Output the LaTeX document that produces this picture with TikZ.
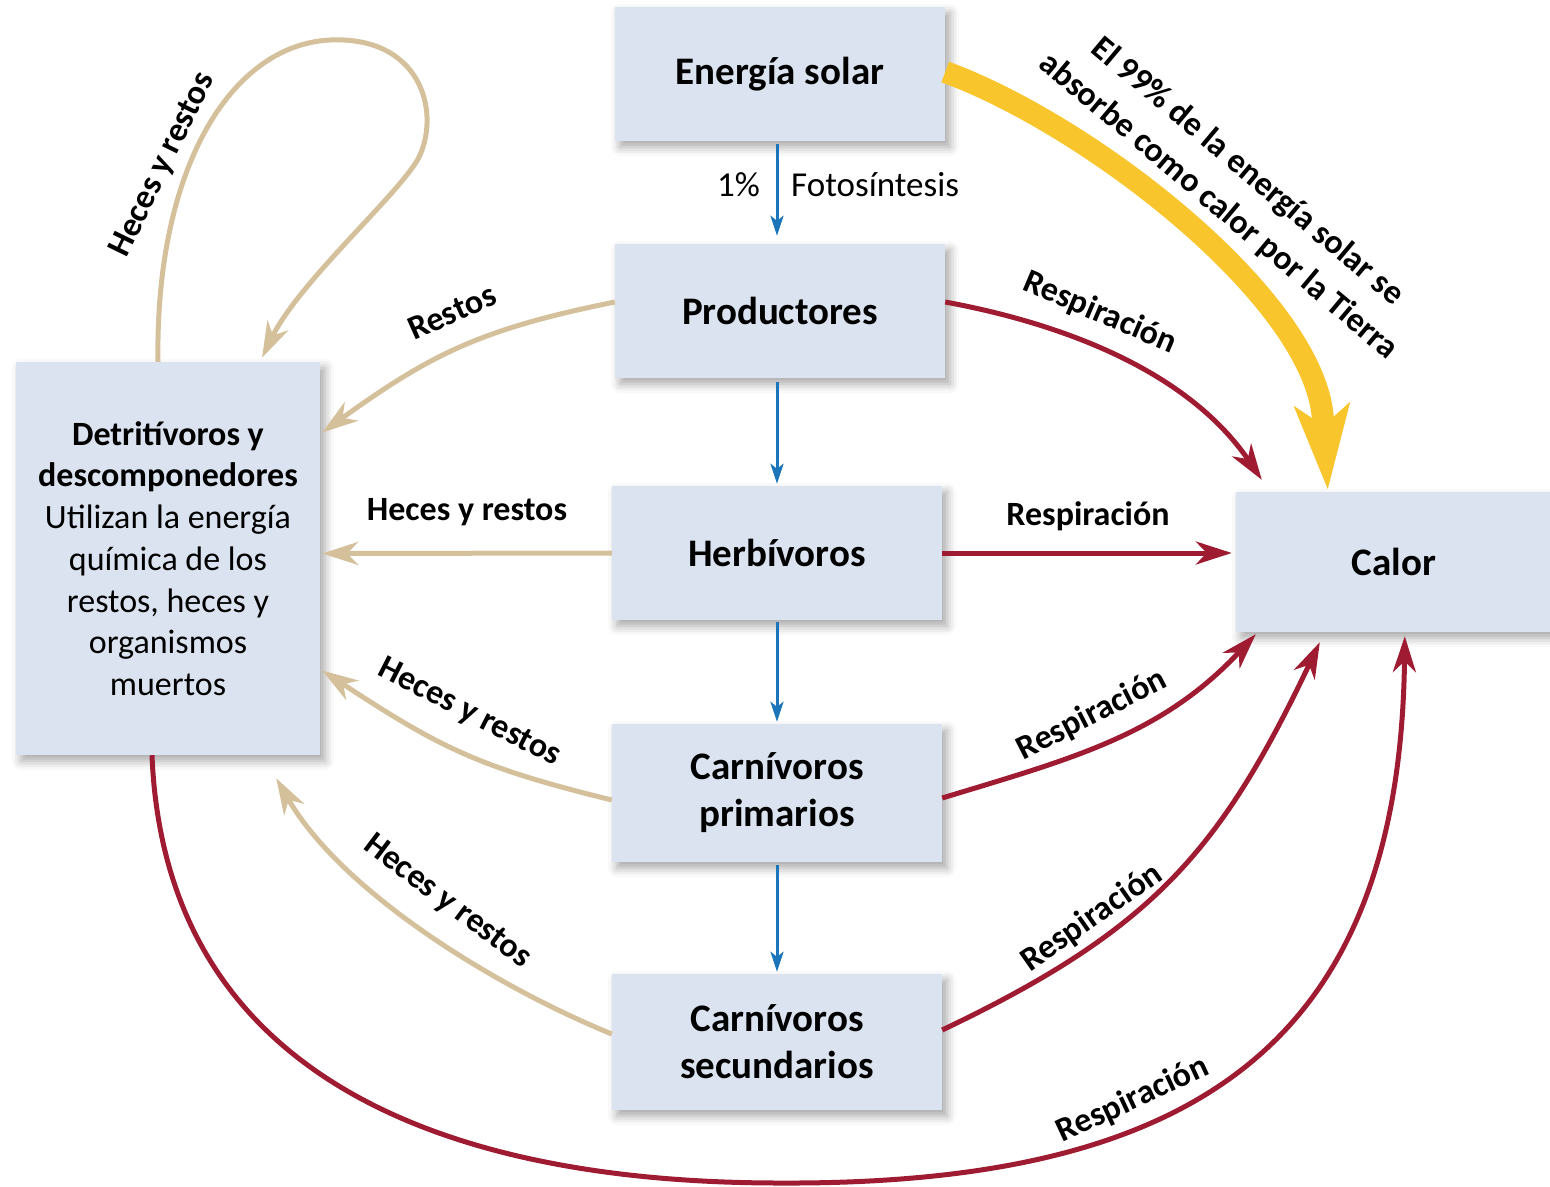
\documentclass[tikz,border=0pt]{standalone}
\usepackage{fontspec}
\setmainfont{Carlito}
\usetikzlibrary{arrows.meta,shadows.blur}

\definecolor{boxfill}{HTML}{DAE3EF}
\definecolor{flowred}{HTML}{9E1B32}
\definecolor{flowtan}{HTML}{D5C09C}
\definecolor{flowblue}{HTML}{1B75BB}
\definecolor{sunyellow}{HTML}{F9C52C}

\begin{document}
\begin{tikzpicture}[x=1pt,y=-1pt,
  level/.style={fill=boxfill, minimum width=330pt, minimum height=134pt,
    inner sep=0pt, align=center, font=\fontsize{39}{47}\selectfont\bfseries,
    blur shadow={shadow xshift=5pt, shadow yshift=-6pt,
      shadow blur radius=9pt, shadow opacity=35}},
  lbl/.style={font=\fontsize{34}{41}\selectfont\bfseries, inner sep=0pt},
  plain/.style={font=\fontsize{35}{42}\selectfont, inner sep=0pt},
  redflow/.style={draw=flowred, line width=5pt,
    -{Stealth[length=36pt,width=23pt,inset=11pt]}},
  tanflow/.style={draw=flowtan, line width=5pt,
    -{Stealth[length=36pt,width=23pt,inset=11pt]}},
  blueflow/.style={draw=flowblue, line width=3pt,
    -{Stealth[length=20pt,width=13pt,inset=5pt]}},
  sunflow/.style={draw=sunyellow, line width=22pt,
    -{Stealth[length=84pt,width=54pt,inset=20pt]}},
]
\useasboundingbox (0,0) rectangle (1550,1186);

% trophic levels and end points of the energy flow
\node[level] (sun)   at (780,74)   {Energía solar};
\node[level] (prod)  at (780,311)  {Productores};
\node[level] (herb)  at (777,553)  {Herbívoros};
\node[level, minimum height=138pt] (cprim) at (777,793) {Carnívoros\\primarios};
\node[level, minimum height=136pt] (csec)  at (777,1042) {Carnívoros\\secundarios};
\node[level, minimum width=304pt, minimum height=393pt,
      font=\fontsize{34}{41.7}\selectfont] (detr) at (168,558.5)
  {{\bfseries Detritívoros y}\\{\bfseries descomponedores}\\Utilizan la energía\\química de los\\restos, heces y\\organismos\\muertos};
\node[level, minimum width=316pt, minimum height=140pt] (calor) at (1394,562) {Calor};

% food chain (blue)
\draw[blueflow] ([xshift=-3pt,yshift=-3pt]sun.south) -- ([xshift=-3pt,yshift=8pt]prod.north);
\draw[blueflow] ([xshift=-3pt,yshift=-4pt]prod.south) -- ([yshift=2pt]herb.north);
\draw[blueflow] ([yshift=-2pt]herb.south) -- ([yshift=2pt]cprim.north);
\draw[blueflow] ([yshift=-3pt]cprim.south) -- ([yshift=2pt]csec.north);
\node[plain, anchor=east] (pct) at (760,185) {1\%};
\node[plain, anchor=west] (foto) at (791,185) {Fotosíntesis};

% solar energy absorbed as heat; the curve ends in a short straight piece
% so that the big tip does not distort it
\coordinate (sunbend) at (1323,420);
\draw[sunflow] ([yshift=2pt]sun.east) .. controls (1090,125) and (1316,300) .. (sunbend)
  -- ([xshift=92pt,yshift=2pt]calor.north west);
\node[font=\fontsize{34}{45}\selectfont\bfseries, align=center, inner sep=0pt, rotate=-40]
  (sunlbl) at (1233,189) {El 99\% de la energía solar se\\absorbe como calor por la Tierra};

% respiration (red)
\draw[redflow] ([yshift=9pt]prod.east) .. controls (1070,325) and (1190,374) .. ([xshift=26pt,yshift=12pt]calor.north west);
\draw[redflow] (herb.east) -- ([xshift=-4pt,yshift=9pt]calor.west);
\draw[redflow] ([yshift=-5pt]cprim.east) .. controls (1074,758) and (1162,735) .. ([xshift=20pt,yshift=-2pt]calor.south west);
\draw[redflow] ([yshift=12pt]csec.east) .. controls (1152,930) and (1220,852) .. ([xshift=84pt,yshift=-10pt]calor.south west);
\draw[redflow] ([xshift=-16pt]detr.south) .. controls (165,1080) and (450,1183) .. (780,1183)
  .. controls (1200,1185) and (1400,1040) .. ([xshift=169pt,yshift=-4pt]calor.south west);
\node[lbl, rotate=-23] (r1) at (1100,313) {Respiración};
\node[lbl] (r2) at (1088,516) {Respiración};
\node[lbl, rotate=27] (r3) at (1092,715) {Respiración};
\node[lbl, rotate=35] (r4) at (1092,918) {Respiración};
\node[lbl, rotate=25] (r5) at (1133,1100) {Respiración};

% remains and faeces to the decomposers (tan)
\draw[tanflow] ([xshift=-10pt]detr.north) .. controls (155,170) and (230,45) .. (330,40)
  .. controls (420,36) and (440,110) .. (420,155)
  .. controls (405,189) and (300,280) .. ([xshift=94pt,yshift=4pt]detr.north);
\draw[tanflow] ([yshift=9pt]prod.west) .. controls (481,329) and (431,354) .. ([xshift=2pt,yshift=126pt]detr.east);
\draw[tanflow] (herb.west) -- ([xshift=2pt,yshift=5pt]detr.east);
\draw[tanflow] ([yshift=-7pt]cprim.west) .. controls (477,767) and (439,747) .. ([xshift=2pt,yshift=-112pt]detr.east);
\draw[tanflow] ([yshift=8pt]csec.west) .. controls (492,985) and (341,891) .. ([xshift=-44pt,yshift=-23pt]detr.south east);
\node[lbl, rotate=64] (h0) at (163,165) {Heces y restos};
\node[lbl, rotate=24] (h1) at (452,312) {Restos};
\node[lbl] (h2) at (467,512) {Heces y restos};
\node[lbl, rotate=-27] (h3) at (469,713) {Heces y restos};
\node[lbl, rotate=-37] (h4) at (447,902) {Heces y restos};
\end{tikzpicture}
\end{document}
